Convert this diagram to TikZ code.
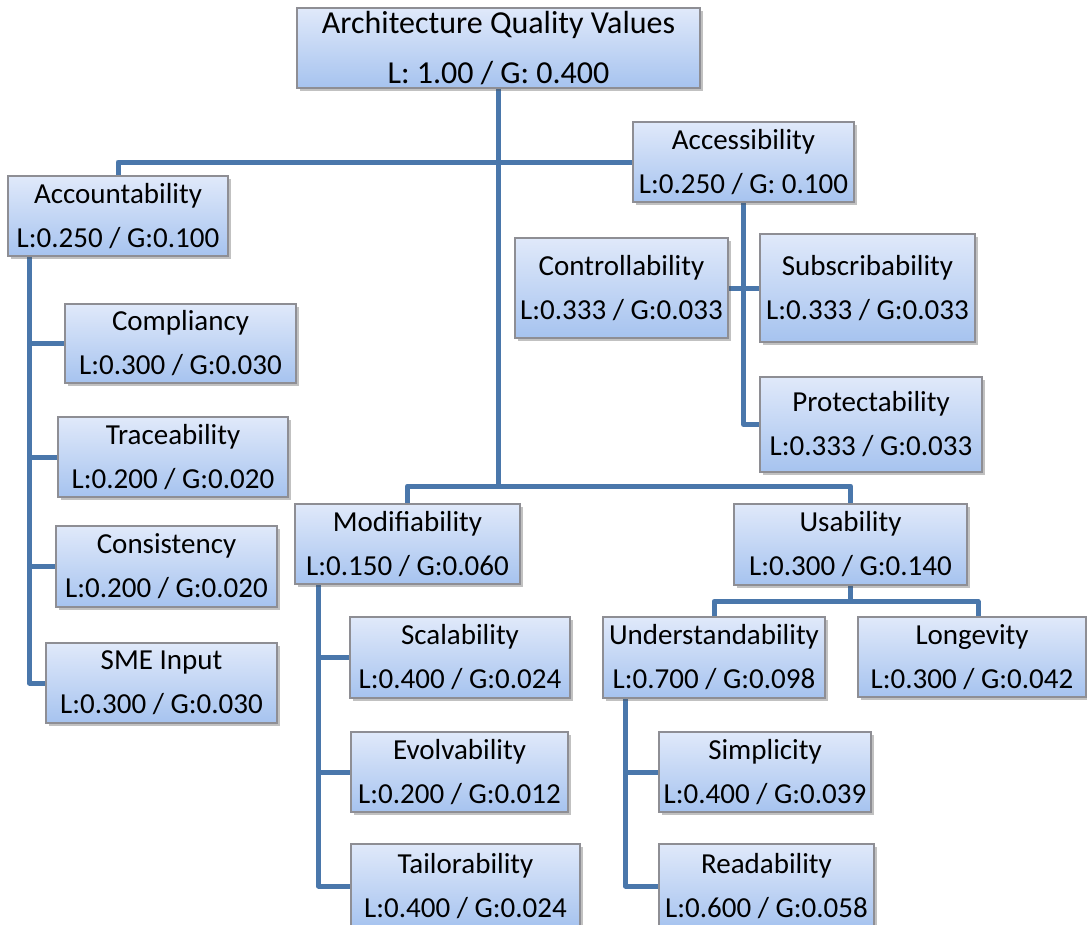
\documentclass[tikz,border=0pt]{standalone}
\usepackage{fontspec}
\setmainfont{Carlito}
\usetikzlibrary{shadows,backgrounds}
\definecolor{boxtop}{HTML}{E0E9FA}
\definecolor{boxbot}{HTML}{A6C3EF}
\definecolor{boxline}{HTML}{8E8E94}
\definecolor{conncol}{HTML}{4A77AB}

\begin{document}
\begin{tikzpicture}[x=1pt, y=-1pt]

% ---------- styles ----------
\tikzset{
  qbox/.style={
    draw=boxline, line width=1.2pt,
    top color=boxtop, bottom color=boxbot,
    drop shadow={shadow xshift=3pt, shadow yshift=-3pt, opacity=0.35, fill=black!70},
    align=center, inner sep=0pt,
    font=\fontsize{29}{44}\selectfont
  },
  conn/.style={draw=conncol, line width=5pt, line join=round}
}

% ---------- node macro ----------
\newcommand{\qnode}[7]{%
  % #1 = name, #2/#3 = centre, #4/#5 = width/height
  % #6 = title, #7 = local / global value
  \node[qbox, minimum width=#4pt, minimum height=#5pt] (#1) at (#2,#3) {#6\\#7};
}

\useasboundingbox (0,0) rectangle (1087,924);

% ==================================================
% Root
% ==================================================
\node[qbox, minimum width=403pt, minimum height=80pt,
      font=\fontsize{32}{50}\selectfont] (root) at (498.5,48)
  {Architecture Quality Values\\L: 1.00 / G: 0.400};

% ==================================================
% Accountability
% ==================================================
\qnode{acco}{118}{216}{220}{80}{Accountability}{L:0.250 / G:0.100}
\qnode{comp}{180.5}{343.5}{231}{79}{Compliancy}{L:0.300 / G:0.030}
\qnode{trac}{173}{457}{230}{80}{Traceability}{L:0.200 / G:0.020}
\qnode{cons}{166.5}{566.5}{221}{81}{Consistency}{L:0.200 / G:0.020}
\qnode{sme}{161.5}{683}{231}{80}{SME Input}{L:0.300 / G:0.030}

% ==================================================
% Accessibility
% ==================================================
\qnode{acce}{743.5}{162}{221}{80}{Accessibility}{L:0.250 / G: 0.100}
\qnode{ctrl}{621.5}{288}{213}{100}{Controllability}{L:0.333 / G:0.033}
\qnode{subs}{867.5}{288}{215}{108}{Subscribability}{L:0.333 / G:0.033}
\qnode{prot}{871}{424.5}{222}{95}{Protectability}{L:0.333 / G:0.033}

% ==================================================
% Modifiability
% ==================================================
\qnode{modi}{407.5}{544}{225}{80}{Modifiability}{L:0.150 / G:0.060}
\qnode{scal}{460}{657.5}{220}{81}{Scalability}{L:0.400 / G:0.024}
\qnode{evol}{459.5}{772}{217}{80}{Evolvability}{L:0.200 / G:0.012}
\qnode{tail}{465.5}{886}{229}{84}{Tailorability}{L:0.400 / G:0.024}

% ==================================================
% Usability
% ==================================================
\qnode{usab}{850.5}{544.5}{233}{81}{Usability}{L:0.300 / G:0.140}
\qnode{unde}{714}{657.5}{222}{81}{Understandability}{L:0.700 / G:0.098}
\qnode{long}{972}{657}{228}{80}{Longevity}{L:0.300 / G:0.042}
\qnode{simp}{765}{772}{212}{80}{Simplicity}{L:0.400 / G:0.039}
\qnode{read}{766.5}{886}{215}{84}{Readability}{L:0.600 / G:0.058}

% ==================================================
% Connectors
% ==================================================
\begin{scope}[on background layer]
  \coordinate (hub) at (498.5,486);
  \coordinate (accobus) at ([xshift=22pt]acco.south west);
  \coordinate (modibus) at ([xshift=24pt]modi.south west);
  \coordinate (undebus) at ([xshift=23pt]unde.south west);
  \coordinate (usabhub) at ([yshift=-16pt]usab.south);

  \draw[conn] (root.south) -- (hub);
  \draw[conn] (acco.north) |- (acce.west);
  \draw[conn] (modi.north) |- (hub) -| (usab.north);

  \foreach \c in {comp,trac,cons,sme}
    \draw[conn] (accobus) |- (\c.west);

  \draw[conn] (acce.south) |- (prot.west);
  \draw[conn] (ctrl.east) -- (subs.west);

  \foreach \c in {scal,evol,tail}
    \draw[conn] (modibus) |- (\c.west);

  \draw[conn] (usab.south) -- (usabhub);
  \draw[conn] (unde.north) |- (usabhub) -| ([xshift=6pt]long.north);

  \foreach \c in {simp,read}
    \draw[conn] (undebus) |- (\c.west);
\end{scope}

\end{tikzpicture}
\end{document}
